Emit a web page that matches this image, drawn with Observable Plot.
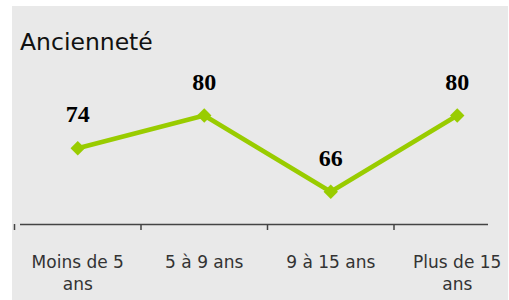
<!DOCTYPE html>
<html>
<head>
<meta charset="utf-8">
<script src="https://cdn.jsdelivr.net/npm/d3@7"></script>
<script src="https://cdn.jsdelivr.net/npm/@observablehq/plot@0.6"></script>
<style>
  html, body { margin: 0; padding: 0; background: #ffffff; }
  body { width: 509px; height: 300px; position: relative; overflow: hidden; }
  #bg { position: absolute; left: 12px; top: 6px; width: 496px; height: 294px; background: #e9e9e9; }
  #chart { position: absolute; left: 0; top: 0; width: 508px; height: 300px; }
  #title { height: 60px; box-sizing: border-box; padding-left: 20px; padding-top: 28px;
           font-family: "DejaVu Sans", sans-serif; font-size: 23.5px; line-height: 28px; color: #111; }
</style>
</head>
<body>
<div id="bg"></div>
<div id="chart">
  <div id="title">Ancienneté</div>
</div>
<script>
const categories = ["Moins de 5 ans", "5 à 9 ans", "9 à 15 ans", "Plus de 15 ans"];
const values = [74, 80, 66, 80];
const tickLabels = ["Moins de 5\nans", "5 à 9 ans", "9 à 15 ans", "Plus de 15\nans"];

const data = categories.map((c, i) => ({cat: c, pos: i + 0.5, value: values[i]}));
const edges = d3.range(categories.length + 1);

const plot = Plot.plot({
  width: 508,
  height: 240,
  marginTop: 55,
  marginBottom: 76,
  style: {background: "transparent", overflow: "hidden"},
  x: {domain: [0, categories.length], range: [14, 520], label: null},
  y: {domain: [60, 80], axis: null},
  marks: [
    Plot.ruleY([60], {stroke: "#444", strokeWidth: 1.5}),
    Plot.axisX({ticks: edges, tickSize: 6, tickFormat: () => "", label: null, stroke: "#444", strokeWidth: 1.5}),
    Plot.axisX({ticks: data.map(d => d.pos), tickSize: 0, tickPadding: 28, label: null,
      tickFormat: d => tickLabels[Math.floor(d)], fontSize: 17, lineHeight: 1.3,
      fill: "#333", fontFamily: "DejaVu Sans", lineAnchor: "top"}),
    Plot.line(data, {x: "pos", y: "value", stroke: "#99cc00", strokeWidth: 4.5}),
    Plot.dot(data, {x: "pos", y: "value", symbol: "diamond2", r: 6.5, fill: "#99cc00", stroke: "none"}),
    Plot.text(data, {x: "pos", y: "value", text: d => String(d.value), dy: -26, lineAnchor: "bottom",
      fontFamily: "Liberation Serif", fontWeight: "bold", fontSize: 24, fill: "#000"})
  ]
});
document.getElementById("chart").appendChild(plot);
</script>
</body>
</html>
